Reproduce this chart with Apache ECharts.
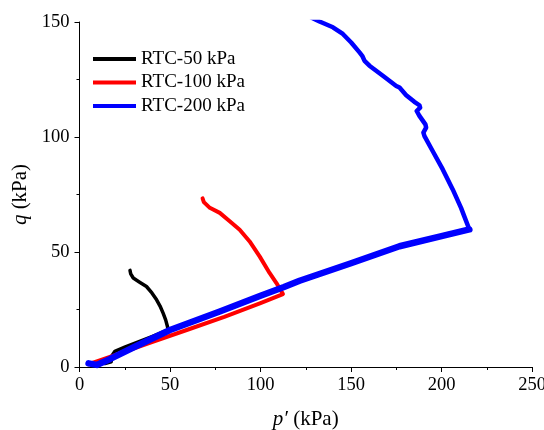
<!DOCTYPE html>
<html>
<head>
<meta charset="utf-8">
<script src="https://cdn.jsdelivr.net/npm/echarts@6/dist/echarts.min.js"></script>
<style>
  html, body { margin: 0; padding: 0; background: #fff; }
  #chart { width: 544px; height: 430px; }
</style>
</head>
<body>
<div id="chart"></div>
<script>
// 读图得到的 p'-q 应力路径 [p', q] (kPa)
var seriesNames = ["RTC-50 kPa", "RTC-100 kPa", "RTC-200 kPa"];
var colors = ["#000000", "#ff0000", "#0000ff"];

var rtc50 = [
  [14, 1.5], [17.5, 2.3], [18, 5], [19.5, 6.8], [25, 8.6], [30, 10.2], [35, 11.7],
  [40, 13.2], [45, 14.8], [49, 16.1], [48.6, 17.6], [47.6, 20.5], [46.2, 23.4],
  [44.5, 26.5], [42.6, 29.2], [40, 32.2], [37, 35], [33, 37], [29.7, 38.7],
  [28.3, 40.5], [27.9, 42]
];

var rtc100 = [
  [5, 1.2], [10, 2.6], [20, 5.3], [40, 10.8], [60, 16.3], [80, 21.8], [100, 27.8],
  [112.4, 31.7], [108.8, 36.5], [105, 40.9], [99.6, 48], [94, 54.6], [88.5, 59.7],
  [83, 63.4], [77.5, 67], [72, 69.2], [68.7, 71.7], [68, 73.3]
];

var rtc200 = [
  [5, 1.6], [9.5, 0.9], [17, 3.5], [30, 8.6], [50, 16.1], [77.5, 24.1], [100, 31],
  [113, 34.8], [121.6, 37.5], [150, 45.1], [176.8, 52.5], [200, 56.9], [215.4, 59.8],
  [212.6, 65.5], [210.8, 69.2], [206.2, 77.2], [200.7, 85.9], [195.1, 93.9],
  [190.6, 100.4], [190, 101.9], [191.5, 104.1], [191.1, 105.5], [187.8, 109.2],
  [186.3, 111.3], [188.2, 112.8], [187.8, 113.8], [185, 115.3], [180.5, 118.2],
  [176.8, 121.5], [175, 122.2], [167.6, 126.6], [160.2, 131], [157.5, 133.1],
  [156.2, 135.3], [154.7, 136.8], [150.1, 141.1], [145.5, 144.8], [140, 147.7],
  [132.6, 150.2], [128, 152]
];
// RTC-200 剪切前段 (数据噪声大, 线显得更粗) 到拐点为止
var rtc200Corner = 12;

var fontFamily = "'Liberation Serif', 'Times New Roman', serif";

var myChart = echarts.init(document.getElementById("chart"));

// 坐标轴公共样式
function makeAxis(min, max, interval) {
  return {
    type: "value",
    min: min,
    max: max,
    interval: interval,
    axisLine: { show: true, onZero: false, lineStyle: { color: "#000", width: 1 } },
    axisTick: { show: true, inside: false, length: 5, lineStyle: { color: "#000" } },
    minorTick: { show: true, splitNumber: 2, length: 3, lineStyle: { color: "#000" } },
    splitLine: { show: false },
    axisLabel: { color: "#000", fontSize: 18.5, fontFamily: fontFamily, margin: 9 },
    nameLocation: "middle",
    nameTextStyle: {
      color: "#000",
      fontSize: 21,
      fontFamily: fontFamily,
      rich: { i: { fontStyle: "italic", fontSize: 21, fontFamily: fontFamily, color: "#000" } }
    }
  };
}

var xAxis = makeAxis(0, 250, 50);
xAxis.name = "{i|p′} (kPa)";
xAxis.nameGap = 42;

var yAxis = makeAxis(0, 150, 50);
yAxis.name = "{i|q} (kPa)";
yAxis.nameGap = 34;
yAxis.axisLabel.margin = 10;

function lineSeries(name, data, color, width) {
  return {
    name: name,
    type: "line",
    data: data,
    symbol: "none",
    clip: true,
    color: color,
    lineStyle: { color: color, width: width, join: "round", cap: "round" }
  };
}

var option = {
  animation: false,
  backgroundColor: "#fff",
  grid: { left: 79.5, right: 12, top: 22, bottom: 63, outerBoundsMode: "none" },
  legend: {
    data: seriesNames,
    orient: "vertical",
    left: 93,
    top: 49.5,
    padding: 0,
    icon: "rect",
    itemWidth: 43,
    itemHeight: 4,
    itemGap: 4.5,
    textStyle: { color: "#000", fontSize: 19, fontFamily: fontFamily }
  },
  xAxis: xAxis,
  yAxis: yAxis,
  series: [
    lineSeries(seriesNames[0], rtc50, colors[0], 3.5),
    lineSeries(seriesNames[1], rtc100, colors[1], 4),
    lineSeries(seriesNames[2], rtc200.slice(0, rtc200Corner + 1), colors[2], 6.5),
    lineSeries(seriesNames[2], rtc200.slice(rtc200Corner), colors[2], 4.5)
  ]
};

myChart.setOption(option);
</script>
</body>
</html>
